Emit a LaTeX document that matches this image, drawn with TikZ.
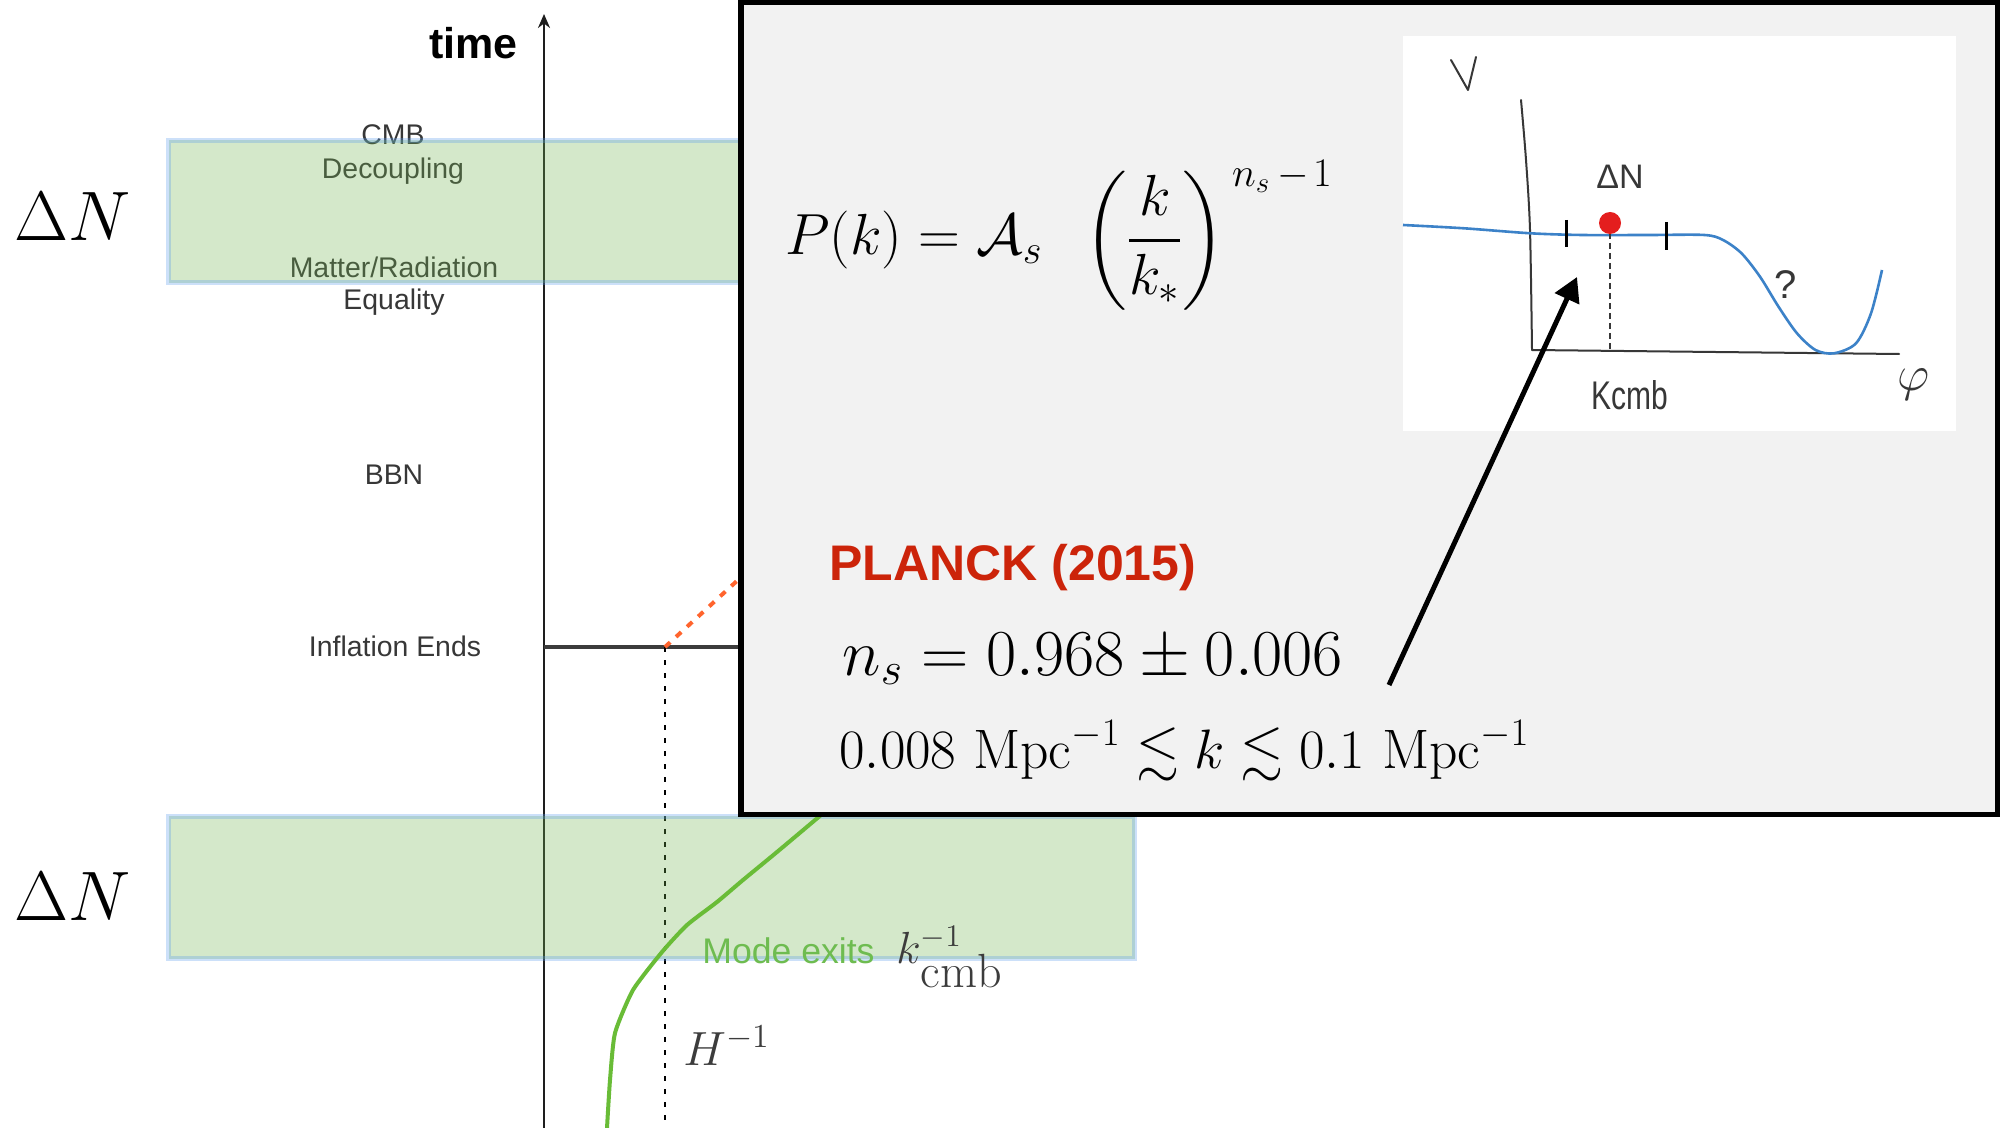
\RequirePackage{fix-cm}
\documentclass[tikz,border=0pt]{standalone}
\usepackage{amsmath,amssymb}
\usepackage{fontspec}
\usepackage{graphicx}
\usetikzlibrary{arrows.meta}
\newfontfamily\helv{Liberation Sans}
\definecolor{labgray}{RGB}{55,55,55}
\definecolor{bandgreen}{RGB}{115,182,82}
\definecolor{bandblue}{RGB}{88,155,238}
\definecolor{curvegreen}{RGB}{105,188,55}
\definecolor{modegreen}{RGB}{110,188,80}
\definecolor{orangedash}{RGB}{255,100,45}
\definecolor{boxgray}{RGB}{242,242,242}
\definecolor{planckred}{RGB}{204,36,10}
\definecolor{sketchblue}{RGB}{60,130,200}
\definecolor{sketchred}{RGB}{228,30,30}
\definecolor{pencil}{RGB}{55,55,55}
\definecolor{axisgray}{RGB}{30,30,30}
\definecolor{inflgray}{RGB}{60,60,60}
\begin{document}
\begin{tikzpicture}[x=0.5pt,y=-0.5pt,
  lab/.style={font=\helv\fontsize{14.2}{16}\selectfont, text=labgray, anchor=base, inner sep=0},
  band/.style={fill=bandgreen, fill opacity=0.3, draw=bandblue, draw opacity=0.3, line width=2.5pt},
  mathlab/.style={anchor=base west, inner sep=0},
  pencilline/.style={draw=pencil, line width=1pt, line cap=round, line join=round},
  boxstyle/.style={draw=black, fill=boxgray, line width=2.75pt}
]
\useasboundingbox (0,0) rectangle (2007,1128);
\fill[white] (0,0) rectangle (2007,1128);

% event labels
\node[lab] (cmb) at (393,144.6) {CMB};
\node[lab] (dec) at (393,178.5) {Decoupling};
\node[lab] (mr) at (394,277.7) {Matter/Radiation};
\node[lab] (eq) at (394,310) {Equality};
\node[lab] (bbn) at (394,484) {BBN};
\node[lab] (infl) at (395,656) {Inflation Ends};

% time axis
\coordinate (axbot) at (544,1128);
\coordinate (axtop) at (544,14);
\draw[axisgray, line width=1.2pt, -{Stealth[length=7pt,width=6pt]}] (axbot) -- (axtop);
\node[anchor=base east, inner sep=0, font=\helv\bfseries\fontsize{21.5}{24}\selectfont] (time) at (518,59) {time};

% inflation end line
\coordinate (ie0) at (544,647);
\coordinate (ie1) at (745,647);
\coordinate (iex) at (665,647);
\coordinate (iebot) at (665,1128);
\coordinate (orend) at (800,523);
\draw[inflgray, line width=1.8pt] (ie0) -- (ie1);
\draw[black, line width=1.3pt, dash pattern=on 2.5pt off 4pt] (iex) -- (iebot);
\draw[orangedash, line width=2pt, dash pattern=on 3.5pt off 4pt] (iex) -- (orend);

% bands
\draw[band] (168.5,140.5) rectangle (1500,283);
\draw[band] (168.5,816) rectangle (1134.5,958.5);

% green curve
\draw[curvegreen, line width=2pt] plot[smooth, tension=0.35] coordinates {(607,1128) (610,1080) (615,1033) (633,990) (662,952) (687,925) (717,902) (743,880) (777,852) (821,815) (850,790)};

\node[mathlab, font=\helv\fontsize{17.8}{20}\selectfont, text=modegreen] (mode) at (702,963) {Mode exits};
\node[mathlab, font=\fontsize{22.5}{25}\selectfont, text=inflgray] (kinv) at (896,963) {$k$\rlap{$^{-1}$}\raisebox{-12pt}{\fontsize{24}{27}\selectfont$\mathrm{cmb}$}};
\node[mathlab, font=\fontsize{24}{27}\selectfont, text=inflgray] (hinv) at (683,1065) {$H^{-1}$};

\node[mathlab, font=\fontsize{35}{40}\selectfont] (dn1) at (14,241) {$\Delta N$};
\node[mathlab, font=\fontsize{35}{40}\selectfont] (dn2) at (14,920) {$\Delta N$};

% inset box
\draw[boxstyle] (740.75,2.75) rectangle (1997.25,814.25);
\node[mathlab, font=\fontsize{29}{31}\selectfont] (pk) at (785,255) {$\displaystyle P(k)=\mathcal{A}_s\;\;\left(\frac{k}{k_*}\right)^{\mkern3mu n_s\mkern3mu-\mkern2mu1}$};
\node[mathlab, font=\helv\bfseries\fontsize{25}{28}\selectfont, text=planckred] (planck) at (829,580) {PLANCK (2015)};
\node[mathlab, font=\fontsize{32.8}{35}\selectfont] (ns) at (842,675) {$n_s=0.968\pm0.006$};
\node[mathlab, font=\fontsize{27.8}{30}\selectfont] (range) at (839,768) {$0.008\ \mathrm{Mpc}^{-1}\lesssim k\lesssim 0.1\ \mathrm{Mpc}^{-1}$};

% sketch
\fill[white] (1403,36) rectangle (1956,431);
\draw[pencilline] (1451,60) -- (1468,90) -- (1476,57);
\draw[pencilline] plot[smooth] coordinates {(1521,100) (1526,160) (1530,230) (1532,350)};
\draw[pencilline] (1532,350) -- (1899,354);
\draw[sketchblue, line width=1.3pt] plot[smooth] coordinates {(1403,225) (1464,228.3) (1530.6,233.3) (1582.4,235) (1649,235) (1704.5,235) (1723,240) (1741.5,253.3) (1760,276.7) (1778.5,306.7) (1797,333.3) (1815.5,350) (1834,353.3) (1856,343.3) (1871,313.3) (1882,270)};
\draw[black, line width=1.5pt] (1566,220) -- (1566,247);
\draw[black, line width=1.5pt] (1666,222) -- (1666,250);
\draw[pencil, line width=1pt, dash pattern=on 3pt off 2pt] (1610,233) -- (1610,350);
\node[circle, fill=sketchred, minimum size=11pt, inner sep=0] (dot) at (1610,223) {};
\node[font=\helv\fontsize{17}{19}\selectfont, text=pencil] (sdn) at (1620,177) {ΔN};
\node[font=\helv\fontsize{20}{22}\selectfont, text=pencil] (skcmb) at (1630,395) {\scalebox{0.75}[1]{Kcmb}};
\node[font=\fontsize{25}{28}\selectfont, text=pencil] (sphi) at (1914,385) {$\varphi$};
\node[font=\helv\fontsize{20}{22}\selectfont, text=pencil] (sq) at (1786,285) {?};

% arrow
\coordinate (arrs) at (1389,685);
\coordinate (arre) at (1577,277);
\draw[black, line width=2.5pt, -{Triangle[length=12pt,width=13pt]}] (arrs) -- (arre);
\end{tikzpicture}
\end{document}
